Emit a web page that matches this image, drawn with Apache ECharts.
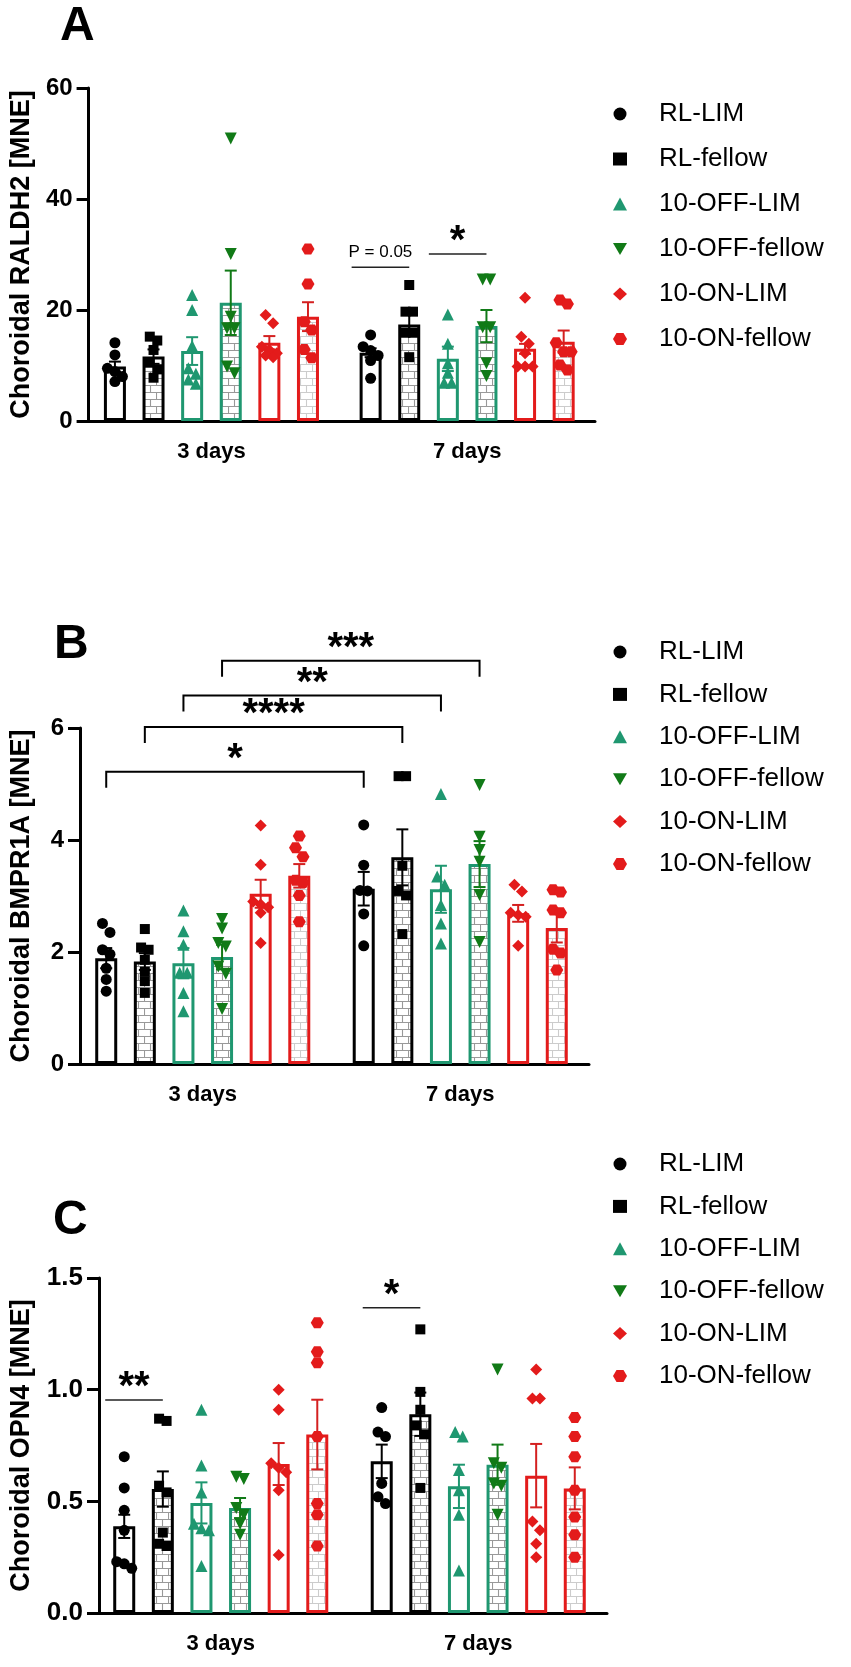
<!DOCTYPE html>
<html>
<head>
<meta charset="utf-8">
<title>Choroidal RALDH2, BMPR1A and OPN4</title>
<script src="https://cdn.jsdelivr.net/npm/echarts@6/dist/echarts.min.js"></script>
<style>
  html, body { margin: 0; padding: 0; background: #fff; }
  #chart { width: 851px; height: 1667px; }
</style>
</head>
<body>
<div id="chart"></div>
<script>
// Data; every group is [3 days, 7 days]
const categories = ['3 days', '7 days'];
const groupNames = ['RL-LIM', 'RL-fellow', '10-OFF-LIM', '10-OFF-fellow', '10-ON-LIM', '10-ON-fellow'];

// A - RALDH2
const raldh2Mean = [[9.8, 12.3], [11.6, 17.4], [12.6, 11.2], [21.3, 17.1], [14.1, 13.0], [18.8, 14.3]];
const raldh2Sem = [[0.9, 0.8], [1.3, 1.9], [2.5, 2.2], [5.8, 2.9], [1.2, 0.9], [2.6, 2.0]];
const raldh2Points = [
    [[14.1, 11.9, 9.5, 8.9, 8.0, 7.1], [15.5, 13.4, 12.7, 11.8, 10.9, 7.7]],
    [[15.2, 14.5, 12.8, 10.5, 9.3, 7.8], [24.5, 19.7, 19.7, 15.9, 15.9, 11.5]],
    [[22.7, 20.0, 13.5, 9.5, 8.5, 7.5, 6.7], [19.2, 13.9, 10.4, 8.7, 6.9, 6.9]],
    [[50.9, 30.1, 18.8, 16.7, 16.7, 9.8, 8.6], [25.5, 25.5, 16.9, 16.9, 10.4, 8.1]],
    [[19.1, 17.6, 13.4, 12.8, 12.2, 11.8, 11.5], [22.2, 15.2, 13.9, 12.2, 9.8, 9.8, 9.8]],
    [[31.0, 24.7, 17.9, 16.4, 12.9, 11.4], [21.8, 21.1, 14.1, 12.5, 12.5, 10.1, 9.2]]
];
const raldh2Ticks = [0, 20, 40, 60];
// comparisons: [category, group] -> [category, group], level
const raldh2Marks = [
    { from: [1, 0], to: [1, 1], y: 27.7, text: 'P = 0.05' },
    { from: [1, 2], to: [1, 3], y: 30.1, text: '*' }
];

// B - BMPR1A
const bmpr1aMean = [[1.89, 3.13], [1.83, 3.69], [1.80, 3.12], [1.91, 3.57], [3.04, 2.69], [3.36, 2.43]];
const bmpr1aSem = [[0.18, 0.30], [0.15, 0.50], [0.27, 0.42], [0.22, 0.41], [0.25, 0.15], [0.21, 0.26]];
const bmpr1aPoints = [
    [[2.51, 2.35, 2.04, 1.96, 1.71, 1.51, 1.30], [4.27, 3.55, 3.10, 3.09, 2.68, 2.11]],
    [[2.41, 2.08, 2.04, 1.86, 1.65, 1.48, 1.27], [5.14, 5.14, 3.54, 3.09, 3.01, 2.32]],
    [[2.74, 2.37, 2.13, 1.63, 1.63, 1.27, 0.94], [4.82, 3.35, 3.20, 2.84, 2.51, 2.15]],
    [[2.59, 2.42, 2.16, 2.10, 1.74, 1.61, 0.98], [4.98, 4.06, 3.82, 3.61, 3.02, 2.18]],
    [[4.26, 3.56, 2.90, 2.85, 2.80, 2.70, 2.16], [3.20, 3.08, 2.70, 2.66, 2.63, 2.11]],
    [[4.07, 3.86, 3.70, 3.28, 3.24, 3.01, 2.54], [3.11, 3.07, 2.75, 2.70, 2.05, 1.98, 1.68]]
];
const bmpr1aTicks = [0, 2, 4, 6];
const bmpr1aMarks = [
    { from: [0, 0], to: [1, 0], y: 5.22, text: '*', bracket: true },
    { from: [0, 1], to: [1, 1], y: 6.02, text: '****', bracket: true },
    { from: [0, 2], to: [1, 2], y: 6.58, text: '**', bracket: true },
    { from: [0, 3], to: [1, 3], y: 7.20, text: '***', bracket: true }
];

// C - OPN4
const opn4Mean = [[0.388, 0.679], [0.555, 0.89], [0.493, 0.567], [0.47, 0.664], [0.667, 0.615], [0.799, 0.558]];
const opn4Sem = [[0.052, 0.075], [0.079, 0.097], [0.092, 0.097], [0.045, 0.09], [0.094, 0.142], [0.156, 0.094]];
const opn4Points = [
    [[0.70, 0.56, 0.46, 0.37, 0.23, 0.22, 0.20], [0.92, 0.81, 0.79, 0.58, 0.52, 0.49]],
    [[0.87, 0.86, 0.57, 0.54, 0.36, 0.31, 0.30], [1.27, 0.99, 0.91, 0.84, 0.80, 0.56]],
    [[0.91, 0.66, 0.54, 0.40, 0.38, 0.37, 0.21], [0.81, 0.79, 0.64, 0.55, 0.44, 0.19]],
    [[0.61, 0.60, 0.47, 0.44, 0.40, 0.35], [1.09, 0.67, 0.65, 0.58, 0.57, 0.44]],
    [[1.00, 0.91, 0.67, 0.65, 0.63, 0.55, 0.26], [1.09, 0.96, 0.96, 0.41, 0.37, 0.31, 0.25]],
    [[1.30, 1.17, 1.12, 0.79, 0.49, 0.44, 0.30], [0.875, 0.79, 0.70, 0.55, 0.43, 0.35, 0.25]]
];
const opn4Ticks = [0, 0.5, 1.0, 1.5];
const opn4Marks = [
    { from: [0, 0], to: [0, 1], y: 0.954, text: '**' },
    { from: [1, 0], to: [1, 1], y: 1.367, text: '*' }
];

// Styling
const FONT = '"Liberation Sans", Arial, sans-serif';
const TEAL = '#1f9770';
const GREEN = '#117a17';
const RED = '#e31b1b';
const BAR_W = 22;
const BAR_GAP = 0.755;
const CAP = 6;
const SWARM_STEP = 7.5;
const SWARM_NEAR = 9;
const HEX = 'path://M-10,0 L-5,-8.66 L5,-8.66 L10,0 L5,8.66 L-5,8.66 Z';
const TRI_DOWN = 'path://M-10,-8.66 L10,-8.66 L0,8.66 Z';

function brickPattern(lineColor) {
    const c = document.createElement('canvas');
    c.width = 12;
    c.height = 14;
    const ctx = c.getContext('2d');
    ctx.fillStyle = '#fff';
    ctx.fillRect(0, 0, 12, 14);
    ctx.strokeStyle = lineColor;
    ctx.lineWidth = 1.1;
    ctx.beginPath();
    ctx.moveTo(0, 0.5); ctx.lineTo(12, 0.5);
    ctx.moveTo(0, 7.5); ctx.lineTo(12, 7.5);
    ctx.moveTo(0.5, 0); ctx.lineTo(0.5, 7.5);
    ctx.moveTo(6.5, 7.5); ctx.lineTo(6.5, 14);
    ctx.stroke();
    return { image: c, repeat: 'repeat' };
}

const brickDark = brickPattern('#999999');
const brickLight = brickPattern('#cccccc');

const groupStyle = [
    { symbol: 'circle', size: 11, color: '#000', border: '#000', err: '#000', fill: '#fff' },
    { symbol: 'rect', size: 10, color: '#000', border: '#000', err: '#000', fill: brickDark },
    { symbol: 'triangle', size: 12, color: TEAL, border: TEAL, err: TEAL, fill: '#fff' },
    { symbol: TRI_DOWN, size: 12, color: GREEN, border: TEAL, err: GREEN, fill: brickDark },
    { symbol: 'diamond', size: 12, color: RED, border: RED, err: '#d42020', fill: '#fff' },
    { symbol: HEX, size: [13, 11], color: RED, border: RED, err: '#d42020', fill: brickLight }
];

// Panel layout (pixels)
const panels = [
    { letter: 'A', title: 'Choroidal RALDH2 [MNE]', mean: raldh2Mean, sem: raldh2Sem, points: raldh2Points,
      ticks: raldh2Ticks, marks: raldh2Marks, digits: 0,
      top: 88, height: 333, left: 83, width: 512, shift: 5, nameGap: 53, tickFont: 24,
      letterX: 60, letterY: 3, legendTop: 94, legendGap: 15 },
    { letter: 'B', title: 'Choroidal BMPR1A [MNE]', mean: bmpr1aMean, sem: bmpr1aSem, points: bmpr1aPoints,
      ticks: bmpr1aTicks, marks: bmpr1aMarks, digits: 0,
      top: 728, height: 336, left: 73, width: 516, shift: 6, nameGap: 45, tickFont: 24,
      letterX: 54, letterY: 621, legendTop: 632, legendGap: 12.4 },
    { letter: 'C', title: 'Choroidal OPN4 [MNE]', mean: opn4Mean, sem: opn4Sem, points: opn4Points,
      ticks: opn4Ticks, marks: opn4Marks, digits: 1,
      top: 1278, height: 335, left: 91, width: 516, shift: 7, nameGap: 64, tickFont: 26,
      letterX: 53, letterY: 1197, legendTop: 1144, legendGap: 12.4 }
];

function barShift(s) {
    return (s - (groupNames.length - 1) / 2) * BAR_W * (1 + BAR_GAP);
}

// simple beeswarm: points closer than SWARM_NEAR px are spread sideways
function swarm(values, pxPerUnit) {
    const order = values.map((v, i) => i).sort((a, b) => values[b] - values[a]);
    const offs = new Array(values.length).fill(0);
    let cluster = [];
    const flush = () => {
        cluster.forEach((idx, k) => {
            offs[idx] = (k - (cluster.length - 1) / 2) * SWARM_STEP;
        });
        cluster = [];
    };
    order.forEach(idx => {
        if (cluster.length && ((values[cluster[0]] - values[idx]) * pxPerUnit > SWARM_NEAR || cluster.length >= 3)) {
            flush();
        }
        cluster.push(idx);
    });
    flush();
    return offs;
}

const grids = [];
const xAxes = [];
const yAxes = [];
const legends = [];
const graphics = [];
const series = [];

panels.forEach((p, pi) => {
    const yMax = p.ticks[p.ticks.length - 1];
    const pxPerUnit = p.height / yMax;

    grids.push({ left: p.left, top: p.top, width: p.width, height: p.height });

    xAxes.push({
        type: 'category',
        gridIndex: pi,
        data: categories,
        boundaryGap: true,
        axisLine: { lineStyle: { color: '#000', width: 3 } },
        axisTick: { alignWithLabel: true, length: 11, lineStyle: { color: '#000', width: 3 } },
        axisLabel: { color: '#000', fontSize: 22, fontWeight: 'bold', fontFamily: FONT, margin: 20 }
    });

    yAxes.push({
        type: 'value',
        gridIndex: pi,
        min: p.ticks[0],
        max: yMax,
        interval: p.ticks[1] - p.ticks[0],
        offset: -p.shift,
        name: p.title,
        nameLocation: 'middle',
        nameGap: p.nameGap,
        nameTextStyle: { color: '#000', fontSize: 27, fontWeight: 'bold', fontFamily: FONT },
        axisLine: { show: true, lineStyle: { color: '#000', width: 3 } },
        axisTick: { show: true, length: 12, lineStyle: { color: '#000', width: 3 } },
        axisLabel: {
            color: '#000', fontSize: p.tickFont, fontWeight: 'bold', fontFamily: FONT, margin: 16,
            formatter: v => v.toFixed(p.digits)
        },
        splitLine: { show: false }
    });

    legends.push({
        data: groupNames.map((n, s) => ({ name: n, icon: groupStyle[s].symbol })),
        orient: 'vertical',
        left: 608,
        top: p.legendTop,
        itemGap: p.legendGap,
        itemWidth: 14,
        itemHeight: 13,
        selectedMode: false,
        textStyle: { color: '#000', fontSize: 26, fontFamily: FONT, lineHeight: 30, padding: [0, 0, 0, 27] }
    });

    graphics.push({
        type: 'text',
        left: p.letterX,
        top: p.letterY,
        style: { text: p.letter, font: 'bold 48px ' + FONT, fill: '#000' }
    });

    groupNames.forEach((g, s) => {
        const st = groupStyle[s];

        // individual animals
        series.push({
            type: 'scatter',
            name: g,
            xAxisIndex: pi,
            yAxisIndex: pi,
            z: 5,
            silent: true,
            symbol: st.symbol,
            symbolSize: st.size,
            itemStyle: { color: st.color, opacity: 1 },
            data: p.points[s].flatMap((vals, c) => {
                const offs = swarm(vals, pxPerUnit);
                return vals.map((v, i) => ({ value: [c, v], symbolOffset: [barShift(s) + offs[i], 0] }));
            })
        });

        // mean bars
        series.push({
            type: 'bar',
            name: g + ' mean',
            xAxisIndex: pi,
            yAxisIndex: pi,
            z: 2,
            silent: true,
            barWidth: BAR_W,
            barGap: (BAR_GAP * 100) + '%',
            itemStyle: { color: st.fill, borderColor: st.border, borderWidth: 3 },
            data: p.mean[s]
        });

        // SEM whiskers
        series.push({
            type: 'custom',
            name: g + ' sem',
            xAxisIndex: pi,
            yAxisIndex: pi,
            z: 4,
            silent: true,
            data: p.mean[s].map((m, c) => [c, m, p.sem[s][c]]),
            renderItem: (params, api) => {
                const c = api.value(0);
                const m = api.value(1);
                const e = api.value(2);
                const x = api.coord([c, m])[0] + barShift(s);
                const yHi = api.coord([c, m + e])[1];
                const yLo = api.coord([c, m - e])[1];
                const ls = { stroke: st.err, lineWidth: 2 };
                return {
                    type: 'group',
                    children: [
                        { type: 'line', shape: { x1: x, y1: yHi, x2: x, y2: yLo }, style: ls },
                        { type: 'line', shape: { x1: x - CAP, y1: yHi, x2: x + CAP, y2: yHi }, style: ls },
                        { type: 'line', shape: { x1: x - CAP, y1: yLo, x2: x + CAP, y2: yLo }, style: ls }
                    ]
                };
            }
        });
    });

    // significance lines
    series.push({
        type: 'custom',
        name: 'marks ' + p.letter,
        xAxisIndex: pi,
        yAxisIndex: pi,
        z: 6,
        silent: true,
        clip: false,
        data: p.marks.map(mk => [mk.from[0], mk.y]),
        renderItem: (params, api) => {
            const mk = p.marks[params.dataIndex];
            const y = api.coord([mk.from[0], mk.y])[1];
            let x1 = api.coord([mk.from[0], mk.y])[0] + barShift(mk.from[1]);
            const x2 = api.coord([mk.to[0], mk.y])[0] + barShift(mk.to[1]);
            const children = [];
            if (mk.bracket) {
                children.push({
                    type: 'polyline',
                    shape: { points: [[x1, y + 16], [x1, y], [x2, y], [x2, y + 16]] },
                    style: { stroke: '#000', lineWidth: 2, fill: null }
                });
            } else {
                x1 -= 19;
                children.push({
                    type: 'line',
                    shape: { x1: x1, y1: y, x2: x2, y2: y },
                    style: { stroke: '#222', lineWidth: 1.6 }
                });
            }
            const isStar = mk.text.indexOf('*') === 0;
            children.push({
                type: 'text',
                style: {
                    text: mk.text,
                    x: (x1 + x2) / 2,
                    y: isStar ? y - 12 : y - 15,
                    font: isStar ? 'bold 40px ' + FONT : '17px ' + FONT,
                    fill: '#000',
                    align: 'center',
                    verticalAlign: 'middle',
                    textAlign: 'center',
                    textVerticalAlign: 'middle'
                }
            });
            return { type: 'group', children: children };
        }
    });
});

const chart = echarts.init(document.getElementById('chart'));
chart.setOption({
    animation: false,
    backgroundColor: '#fff',
    textStyle: { fontFamily: FONT },
    grid: grids,
    xAxis: xAxes,
    yAxis: yAxes,
    legend: legends,
    graphic: graphics,
    series: series
});

window.addEventListener('resize', () => {
    chart.resize();
});
</script>
</body>
</html>
